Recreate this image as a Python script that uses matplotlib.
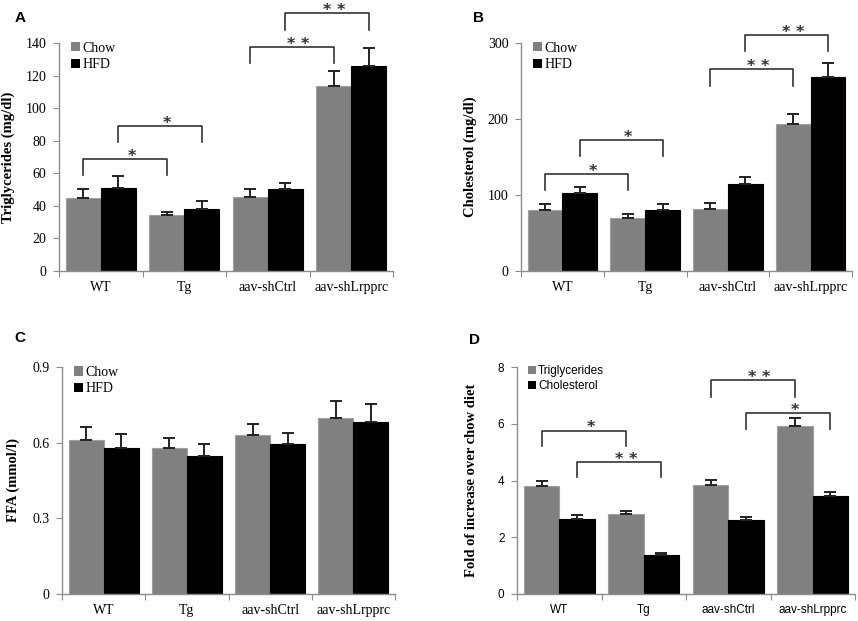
import numpy as np
import matplotlib.pyplot as plt
from matplotlib.patches import Patch

# Data
groups = ['WT', 'Tg', 'aav-shCtrl', 'aav-shLrpprc']

tg_chow = [45.1, 34.2, 45.7, 113.3]
tg_chow_err = [5.3, 2.1, 4.7, 9.7]
tg_hfd = [51.2, 38.1, 50.6, 126.0]
tg_hfd_err = [7.4, 4.7, 3.7, 10.9]

chol_chow = [80.7, 69.3, 82.0, 193.9]
chol_chow_err = [7.0, 5.3, 7.0, 12.7]
chol_hfd = [103.0, 80.7, 114.9, 255.3]
chol_hfd_err = [7.5, 7.0, 8.8, 18.4]

ffa_chow = [0.609, 0.577, 0.632, 0.698]
ffa_chow_err = [0.054, 0.042, 0.043, 0.068]
ffa_hfd = [0.580, 0.547, 0.593, 0.683]
ffa_hfd_err = [0.055, 0.046, 0.045, 0.069]

fold_tg = [3.80, 2.82, 3.83, 5.91]
fold_tg_err = [0.17, 0.09, 0.20, 0.28]
fold_chol = [2.64, 1.36, 2.61, 3.44]
fold_chol_err = [0.14, 0.07, 0.09, 0.14]

# significance brackets: (group a, series a, group b, series b, top, leg end, label)
sig_a = [(0, 0, 1, 0, 68.9, 59, '*'), (0, 1, 1, 1, 89.2, 79, '*'),
         (2, 0, 3, 0, 137.5, 127.7, '* *'), (2, 1, 3, 1, 158.4, 148, '* *')]
sig_b = [(0, 0, 1, 0, 128, 107, '*'), (0, 1, 1, 1, 172, 151, '*'),
         (2, 0, 3, 0, 266, 244, '* *'), (2, 1, 3, 1, 310, 289, '* *')]
sig_d = [(0, 0, 1, 0, 5.76, 5.2, '*'), (0, 1, 1, 1, 4.65, 4.11, '* *'),
         (2, 0, 3, 0, 7.53, 6.94, '* *'), (2, 1, 3, 1, 6.38, 5.83, '*')]

GRAY = '#808080'
W = 0.42
OFF = [-0.21, 0.21]
SERIF = 'Liberation Serif'
SANS = 'Liberation Sans'

fig = plt.figure(figsize=(8.58, 6.21), dpi=100)
FW, FH = 858, 621


def px_axes(left, right, top, bottom):
    return fig.add_axes([left / FW, 1 - bottom / FH, (right - left) / FW, (bottom - top) / FH])


def panel(ax, s1, e1, s2, e2, ymax, yticks, ylabel, names, font, labx, sig=None, tickfmt=None):
    x = np.arange(len(groups))
    ekw = dict(ecolor='#222222', elinewidth=1.4, capsize=4, capthick=1.4)
    ax.bar(x + OFF[0], s1, W, color=GRAY, edgecolor='#a0a0a0', linewidth=0.8,
           yerr=[np.zeros(4), e1], error_kw=ekw, zorder=2)
    ax.bar(x + OFF[1], s2, W, color='black', edgecolor='black', linewidth=0.8,
           yerr=[np.zeros(4), e2], error_kw=ekw, zorder=2)
    ax.set_xlim(-0.5, 3.5)
    ax.set_ylim(0, ymax)
    ax.set_yticks(yticks)
    if tickfmt:
        ax.set_yticklabels([tickfmt.format(v) for v in yticks])
    ax.set_xticks(np.arange(-0.5, 4, 1))
    ax.set_xticklabels([])
    ax.set_xticks(x, minor=True)
    ax.set_xticklabels(groups, minor=True)
    for sp in ['top', 'right']:
        ax.spines[sp].set_visible(False)
    for sp in ['left', 'bottom']:
        ax.spines[sp].set_color('#8c8c8c')
        ax.spines[sp].set_linewidth(1.0)
    ax.tick_params(axis='both', which='major', direction='out', length=4, color='#8c8c8c')
    ax.tick_params(axis='x', which='minor', length=0, pad=7)
    ax.tick_params(axis='y', pad=5)
    tsize = 10 if font == SERIF else 8.5
    for lab in ax.get_xticklabels(minor=True) + ax.get_yticklabels():
        lab.set_fontfamily(font)
        lab.set_fontsize(tsize)
    ax.set_ylabel(ylabel, fontfamily=SERIF, fontweight='bold', fontsize=10.5)
    ax.yaxis.set_label_coords(labx, 0.5)
    handles = [Patch(facecolor=GRAY, edgecolor='none'), Patch(facecolor='black', edgecolor='none')]
    ax.legend(handles, names, loc='upper left', bbox_to_anchor=(0.02, 1.03), frameon=False,
              handlelength=0.65, handleheight=0.65, handletextpad=0.15, labelspacing=0.25,
              borderaxespad=0, prop={'family': font, 'size': 10 if font == SERIF else 8.5})
    if sig:
        for ga, sa, gb, sb, top, bot, lab in sig:
            xa = ga + OFF[sa]
            xb = gb + OFF[sb]
            ax.plot([xa, xa, xb, xb], [bot, top, top, bot], color='#333333', lw=1.2,
                    clip_on=False, zorder=3)
            ax.annotate(lab, ((xa + xb) / 2 + 0.08, top), xytext=(0, -3.5), textcoords='offset points',
                        ha='center', va='bottom', fontsize=11.5, fontweight='bold',
                        color='#333333', annotation_clip=False)


axA = px_axes(59, 393, 43, 271)
panel(axA, tg_chow, tg_chow_err, tg_hfd, tg_hfd_err, 140, range(0, 141, 20),
      'Triglycerides (mg/dl)', ['Chow', 'HFD'], SERIF, -0.132, sig_a)

axB = px_axes(521, 852, 43, 271)
panel(axB, chol_chow, chol_chow_err, chol_hfd, chol_hfd_err, 300, [0, 100, 200, 300],
      'Cholesterol (mg/dl)', ['Chow', 'HFD'], SERIF, -0.133, sig_b)

axC = px_axes(62, 395, 367, 594)
panel(axC, ffa_chow, ffa_chow_err, ffa_hfd, ffa_hfd_err, 0.9, [0, 0.3, 0.6, 0.9],
      'FFA (mmol/l)', ['Chow', 'HFD'], SERIF, -0.126, None, tickfmt='{:g}')

axD = px_axes(517, 855, 367, 594)
panel(axD, fold_tg, fold_tg_err, fold_chol, fold_chol_err, 8, [0, 2, 4, 6, 8],
      'Fold of increase over chow diet', ['Triglycerides', 'Cholesterol'], SANS, -0.115, sig_d)

for lab, (px, py) in zip('ABCD', [(20, 18), (478, 18), (20, 338), (475, 340)]):
    fig.text(px / FW, 1 - py / FH, lab, fontfamily=SANS, fontweight='bold', fontsize=11,
             ha='center', va='center')

plt.savefig('out.png', dpi=100)
